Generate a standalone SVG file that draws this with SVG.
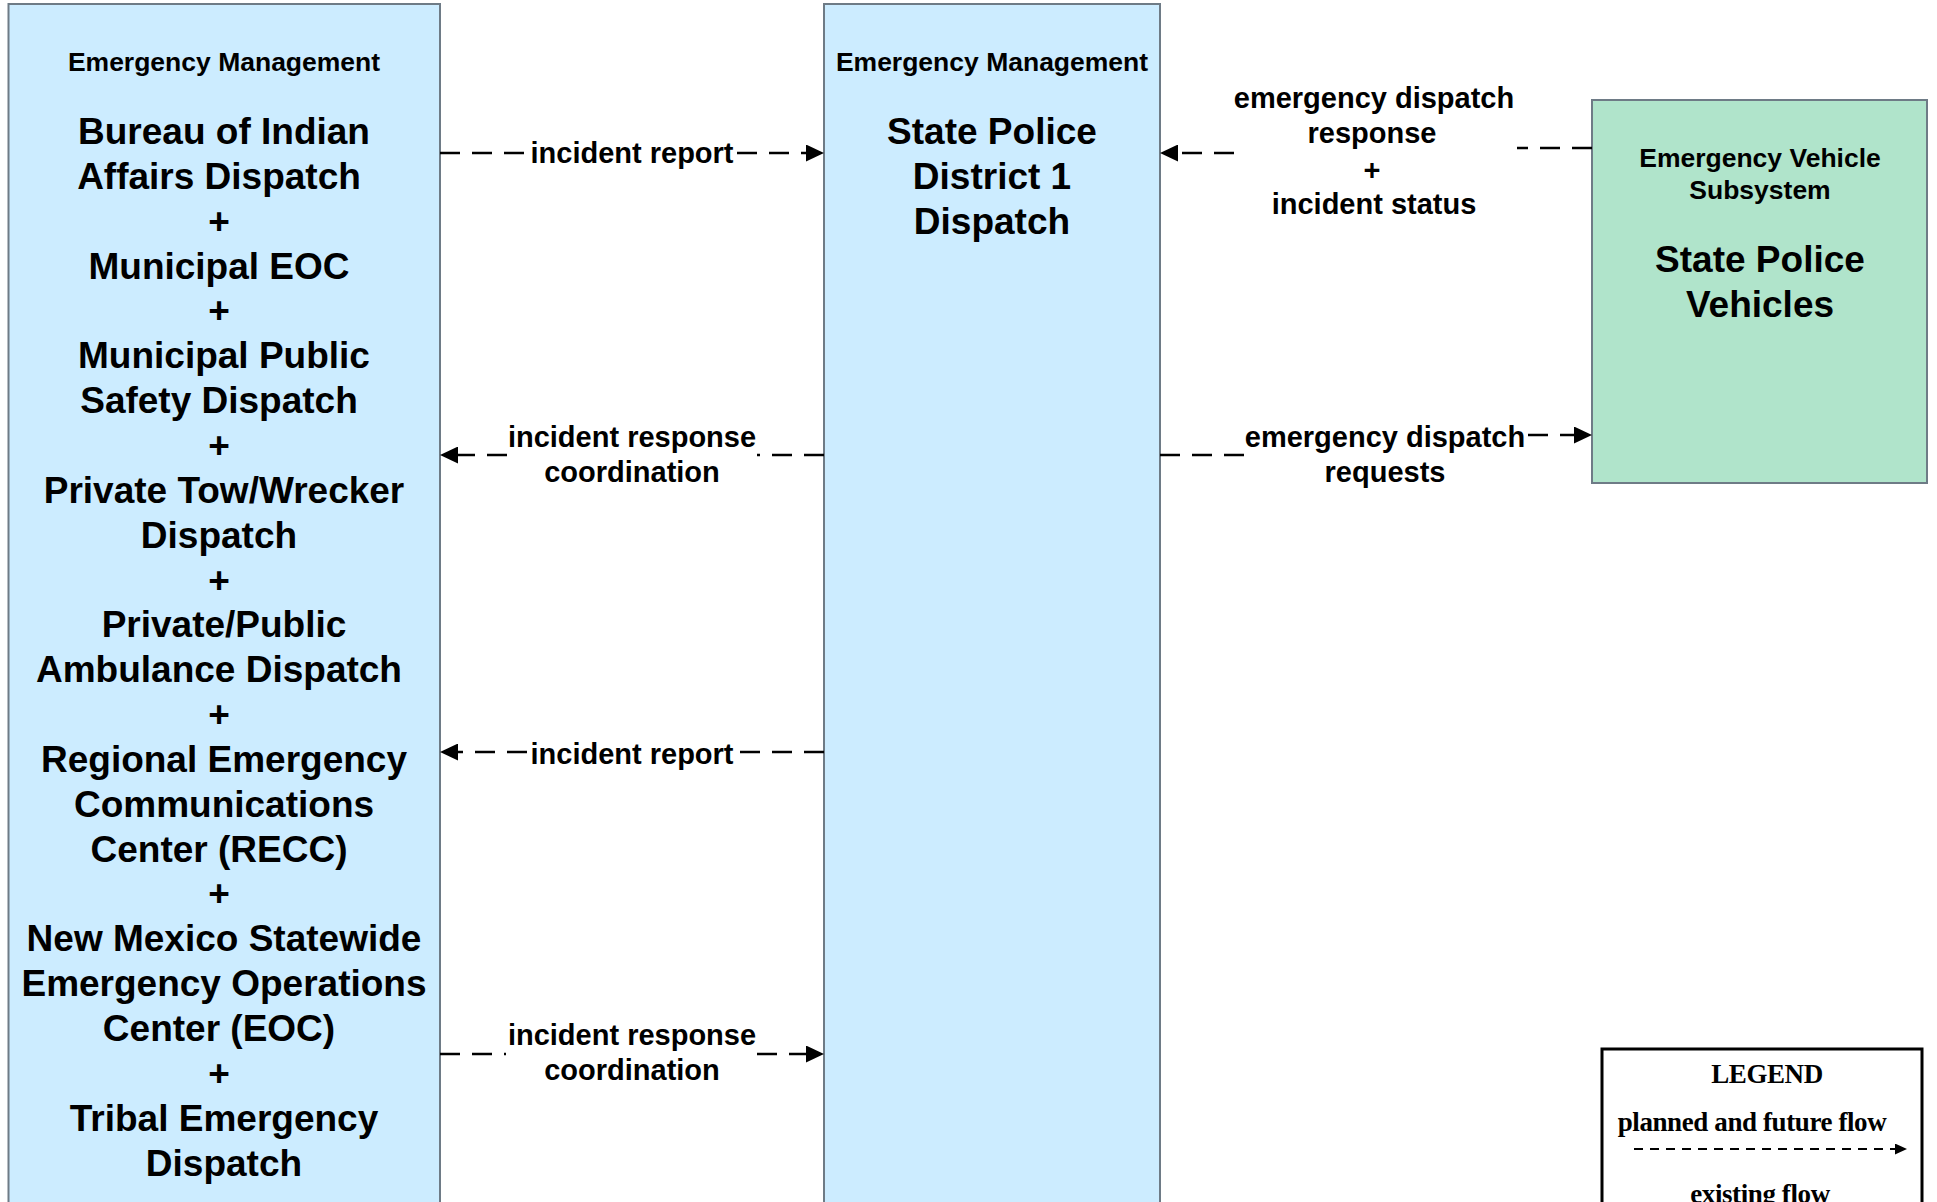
<svg xmlns="http://www.w3.org/2000/svg" width="1937" height="1202" viewBox="0 0 1937 1202">
<style>
.bg{fill:#ffffff}
.blue{fill:#CCECFF;stroke:#6E7B86;stroke-width:2}
.green{fill:#B0E4CB;stroke:#6E7B86;stroke-width:2}
.t{font-family:"Liberation Sans",Arial,sans-serif;font-weight:bold;fill:#000;text-anchor:middle}
.sub{font-size:26.5px}
.big{font-size:37px}
.lbl{font-size:29px}
.flow{fill:none;stroke:#000;stroke-width:2.7;stroke-dasharray:20 12}
.leg{font-family:"Liberation Serif","Times New Roman",serif;font-weight:bold;font-size:27px;fill:#000;text-anchor:middle;letter-spacing:-0.4px}
</style>
<defs>
<marker id="ah" markerUnits="userSpaceOnUse" viewBox="0 0 18 17" markerWidth="18" markerHeight="17" refX="8" refY="8.5" orient="auto">
<path d="M0,0 L18,8.5 L0,17 z" fill="#000"/>
</marker>
<marker id="ahs" markerUnits="userSpaceOnUse" viewBox="0 0 12 11" markerWidth="12" markerHeight="11" refX="4" refY="5.5" orient="auto">
<path d="M0,0 L12,5.5 L0,11 z" fill="#000"/>
</marker>
</defs>
<rect class="bg" x="0" y="0" width="1937" height="1202"/>

<g id="node-left">
<rect class="blue" x="8.5" y="4" width="431.5" height="1210"/>
<text class="t sub" x="224" y="71">Emergency Management</text>
<g class="t big">
<text x="224" y="144">Bureau of Indian</text>
<text x="219" y="189">Affairs Dispatch</text>
<text x="219" y="234">+</text>
<text x="219" y="279">Municipal EOC</text>
<text x="219" y="323">+</text>
<text x="224" y="368">Municipal Public</text>
<text x="219" y="413">Safety Dispatch</text>
<text x="219" y="458">+</text>
<text x="224" y="503">Private Tow/Wrecker</text>
<text x="219" y="548">Dispatch</text>
<text x="219" y="593">+</text>
<text x="224" y="637">Private/Public</text>
<text x="219" y="682">Ambulance Dispatch</text>
<text x="219" y="727">+</text>
<text x="224" y="772">Regional Emergency</text>
<text x="224" y="817">Communications</text>
<text x="219" y="862">Center (RECC)</text>
<text x="219" y="906">+</text>
<text x="224" y="951">New Mexico Statewide</text>
<text x="224" y="996">Emergency Operations</text>
<text x="219" y="1041">Center (EOC)</text>
<text x="219" y="1086">+</text>
<text x="224" y="1131">Tribal Emergency</text>
<text x="224" y="1176">Dispatch</text>
</g>
</g>

<g id="node-middle">
<rect class="blue" x="824" y="4" width="336" height="1210"/>
<text class="t sub" x="992" y="71">Emergency Management</text>
<text class="t big" x="992" y="144">State Police</text>
<text class="t big" x="992" y="189">District 1</text>
<text class="t big" x="992" y="234">Dispatch</text>
</g>

<g id="node-green">
<rect class="green" x="1592" y="100" width="335" height="383"/>
<text class="t sub" x="1760" y="167">Emergency Vehicle</text>
<text class="t sub" x="1760" y="199">Subsystem</text>
<text class="t big" x="1760" y="272">State Police</text>
<text class="t big" x="1760" y="317">Vehicles</text>
</g>

<g id="connectors">
<path class="flow" d="M440,153 H527 M737,153 H814" marker-end="url(#ah)"/>
<path class="flow" d="M824,455 H757 M507,455 H450" marker-end="url(#ah)"/>
<path class="flow" d="M824,752 H738 M527,752 H450" marker-end="url(#ah)"/>
<path class="flow" d="M440,1054 H506 M757,1054 H814" marker-end="url(#ah)"/>
<path class="flow" d="M1592,148 H1517 M1234,153 H1170" marker-end="url(#ah)"/>
<path class="flow" d="M1160,455 H1244 M1528,435 H1582" marker-end="url(#ah)"/>
</g>

<g id="labels" class="t lbl">
<text x="632" y="163">incident report</text>
<text x="632" y="447">incident response</text>
<text x="632" y="482">coordination</text>
<text x="632" y="764">incident report</text>
<text x="632" y="1045">incident response</text>
<text x="632" y="1080">coordination</text>
<text x="1374" y="108">emergency dispatch</text>
<text x="1372" y="143">response</text>
<text x="1372" y="180">+</text>
<text x="1374" y="214">incident status</text>
<text x="1385" y="447">emergency dispatch</text>
<text x="1385" y="482">requests</text>
</g>

<g id="legend">
<rect x="1602" y="1049" width="320" height="170" fill="#fff" stroke="#000" stroke-width="3"/>
<text class="leg" x="1767" y="1083">LEGEND</text>
<text class="leg" x="1752" y="1131">planned and future flow</text>
<path d="M1634,1149 H1899" fill="none" stroke="#000" stroke-width="2" stroke-dasharray="9 7" marker-end="url(#ahs)"/>
<text class="leg" x="1760" y="1203">existing flow</text>
</g>
</svg>
